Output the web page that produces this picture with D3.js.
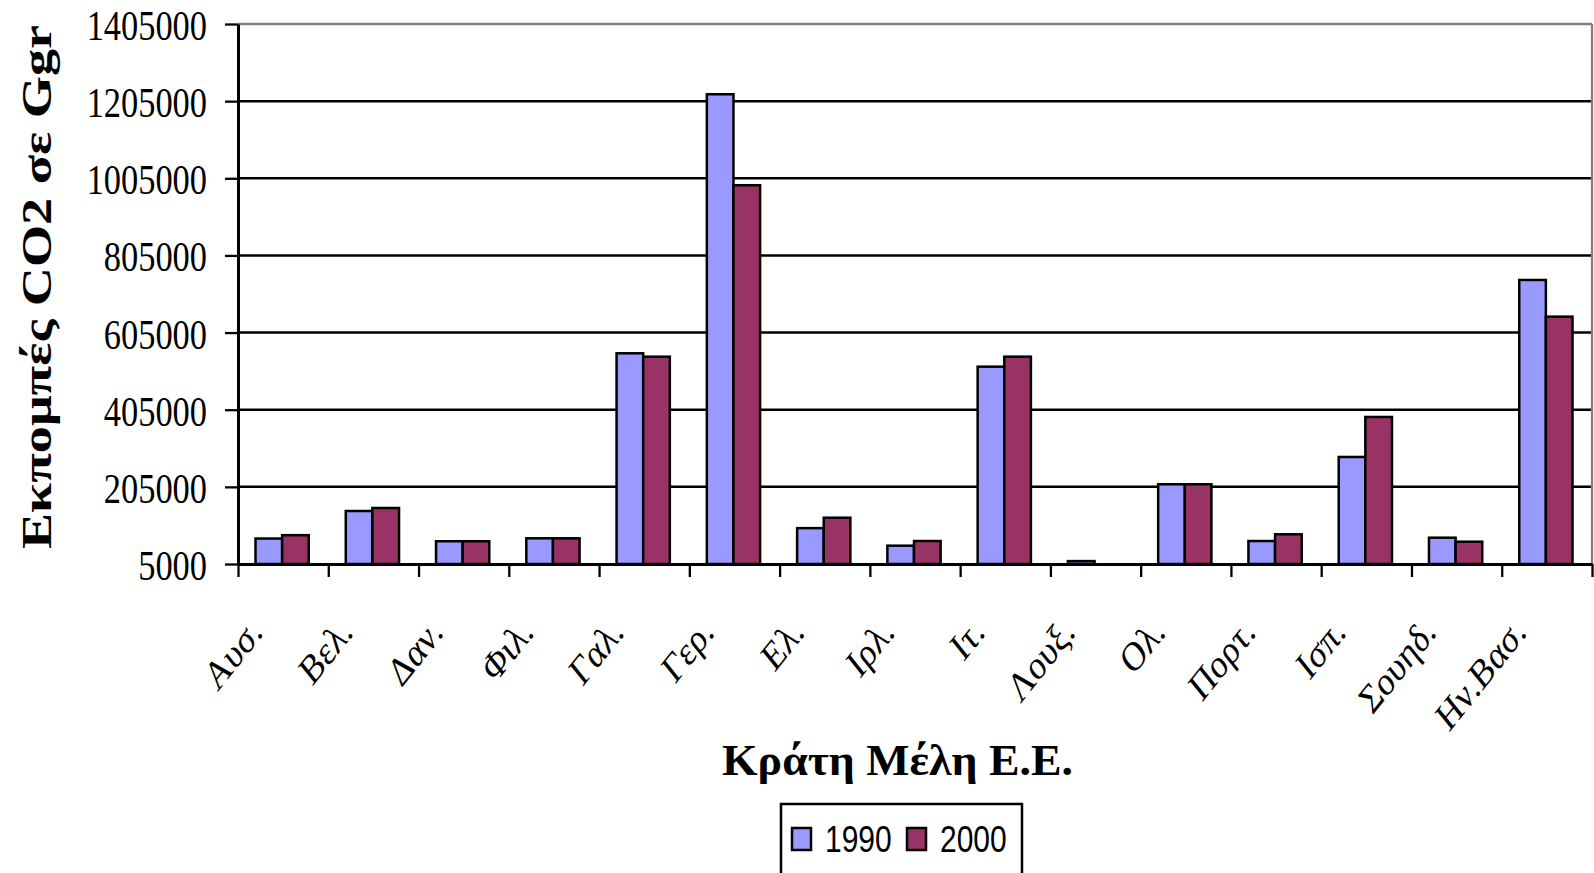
<!DOCTYPE html>
<html>
<head>
<meta charset="utf-8">
<script src="https://cdn.jsdelivr.net/npm/d3@7"></script>
<style>
  html, body { margin: 0; padding: 0; background: #fff; }
  svg { display: block; }
</style>
</head>
<body>
<svg id="chart" width="1594" height="873"></svg>
<script>
const categories = ["Αυσ.", "Βελ.", "Δαν.", "Φιλ.", "Γαλ.", "Γερ.", "Ελ.", "Ιρλ.", "Ιτ.", "Λουξ.", "Ολ.", "Πορτ.", "Ισπ.", "Σουηδ.", "Ην.Βασ."];
const values1990 = [71000, 142400, 64000, 71600, 551300, 1222900, 98000, 52500, 516600, 12500, 211700, 64600, 282500, 73200, 741400];
const values2000 = [79700, 150200, 64000, 71600, 542500, 987000, 125000, 64600, 542500, 5000, 211700, 82000, 386200, 62800, 646300];
const seriesNames = ["1990", "2000"];
const seriesColors = ["#9999FF", "#993366"];
const yTickValues = [5000, 205000, 405000, 605000, 805000, 1005000, 1205000, 1405000];
const yTitle = "Εκπομπές CO2 σε Ggr";
const xTitle = "Κράτη Μέλη Ε.Ε.";

(function () {
const svg = d3.select("#chart");
const pLeft = 238, pRight = 1592, pTop = 24, pBottom = 564;
const SX = 0.8; // horizontal squeeze of the reference's text

const y = d3.scaleLinear().domain([5000, 1405000]).range([pBottom, pTop]);
const x = d3.scaleBand().domain(categories).range([pLeft, pRight]).paddingInner(0).paddingOuter(0);
const xEdge = d3.scaleLinear().domain([0, categories.length]).range([pLeft, pRight]);
const inner = d3.scaleBand().domain(seriesNames).range([x.bandwidth() * 0.194, x.bandwidth() * 0.784]).padding(0);

// gridlines (interior ticks)
svg.append("g").selectAll("line")
  .data(yTickValues.filter(v => v > 5000 && v < 1405000))
  .join("line")
  .attr("x1", pLeft).attr("x2", pRight)
  .attr("y1", d => y(d)).attr("y2", d => y(d))
  .attr("stroke", "#000").attr("stroke-width", 2.5);

// plot border top/right in gray
svg.append("line").attr("x1", pLeft).attr("x2", pRight).attr("y1", pTop).attr("y2", pTop)
  .attr("stroke", "#808080").attr("stroke-width", 2.3);
svg.append("line").attr("x1", pRight).attr("x2", pRight).attr("y1", pTop).attr("y2", pBottom)
  .attr("stroke", "#808080").attr("stroke-width", 2.3);

// bars
const data = categories.map((c, i) => ({ c, vals: [values1990[i], values2000[i]] }));
const groups = svg.append("g").selectAll("g").data(data).join("g")
  .attr("transform", d => `translate(${x(d.c)},0)`);
groups.selectAll("rect")
  .data(d => d.vals.map((v, k) => ({ v, k })))
  .join("rect")
  .attr("x", d => inner(seriesNames[d.k]))
  .attr("width", inner.bandwidth())
  .attr("y", d => y(d.v))
  .attr("height", d => pBottom - y(d.v))
  .attr("fill", d => seriesColors[d.k])
  .attr("stroke", "#000")
  .attr("stroke-width", 2.5);

// y axis
const yAxis = svg.append("g").attr("transform", `translate(${pLeft},0)`)
  .call(d3.axisLeft(y).tickValues(yTickValues).tickSize(13).tickSizeOuter(0).tickFormat(d3.format("d")));
yAxis.select(".domain").attr("stroke", "#000").attr("stroke-width", 3);
yAxis.selectAll(".tick line").attr("stroke", "#000").attr("stroke-width", 2.3);
yAxis.selectAll(".tick text")
  .attr("x", null).attr("dy", "0.36em")
  .attr("transform", `translate(-31,0) scale(${SX},1)`)
  .attr("text-anchor", "end")
  .attr("fill", "#000")
  .style("font-family", "'Liberation Serif', 'Times New Roman', serif")
  .style("font-size", "43px");

// x axis: boundary ticks
const xAxisTicks = svg.append("g").attr("transform", `translate(0,${pBottom})`)
  .call(d3.axisBottom(xEdge).tickValues(d3.range(categories.length + 1)).tickSize(13).tickSizeOuter(0).tickFormat(""));
xAxisTicks.select(".domain").attr("stroke", "#000").attr("stroke-width", 3);
xAxisTicks.selectAll(".tick line").attr("stroke", "#000").attr("stroke-width", 2.3);

// x axis labels
const xAxisLabels = svg.append("g").attr("transform", `translate(0,${pBottom})`)
  .call(d3.axisBottom(x).tickSize(0).tickSizeOuter(0));
xAxisLabels.select(".domain").remove();
xAxisLabels.selectAll(".tick text")
  .attr("y", null).attr("dy", null)
  .attr("transform", `translate(-19,70) scale(${SX},1) rotate(-45)`)
  .attr("text-anchor", "end")
  .attr("fill", "#000")
  .style("font-family", "'Liberation Serif', 'Times New Roman', serif")
  .style("font-size", "41px");

// y title
svg.append("text")
  .attr("transform", `translate(51,287) scale(${SX},1) rotate(-90)`)
  .attr("text-anchor", "middle")
  .attr("textLength", 524).attr("lengthAdjust", "spacingAndGlyphs")
  .style("font-family", "'Liberation Serif', 'Times New Roman', serif")
  .style("font-weight", "bold")
  .style("font-size", "52px")
  .text(yTitle);

// x title
svg.append("text")
  .attr("x", 897.5).attr("y", 775)
  .attr("text-anchor", "middle")
  .attr("textLength", 351).attr("lengthAdjust", "spacingAndGlyphs")
  .style("font-family", "'Liberation Serif', 'Times New Roman', serif")
  .style("font-weight", "bold")
  .style("font-size", "45px")
  .text(xTitle);

// legend
const legend = svg.append("g");
legend.append("rect").attr("x", 781).attr("y", 804).attr("width", 241).attr("height", 100)
  .attr("fill", "#fff").attr("stroke", "#000").attr("stroke-width", 2.5);
const legX = [792, 907];
seriesNames.forEach((s, i) => {
  legend.append("rect").attr("x", legX[i]).attr("y", 828).attr("width", 19).attr("height", 22)
    .attr("fill", seriesColors[i]).attr("stroke", "#000").attr("stroke-width", 2.5);
  legend.append("text")
    .attr("transform", `translate(${legX[i] + 33},852) scale(${SX},1)`)
    .style("font-family", "'Liberation Sans', Arial, sans-serif")
    .style("font-size", "37.5px")
    .text(s);
});
})();
</script>
</body>
</html>
